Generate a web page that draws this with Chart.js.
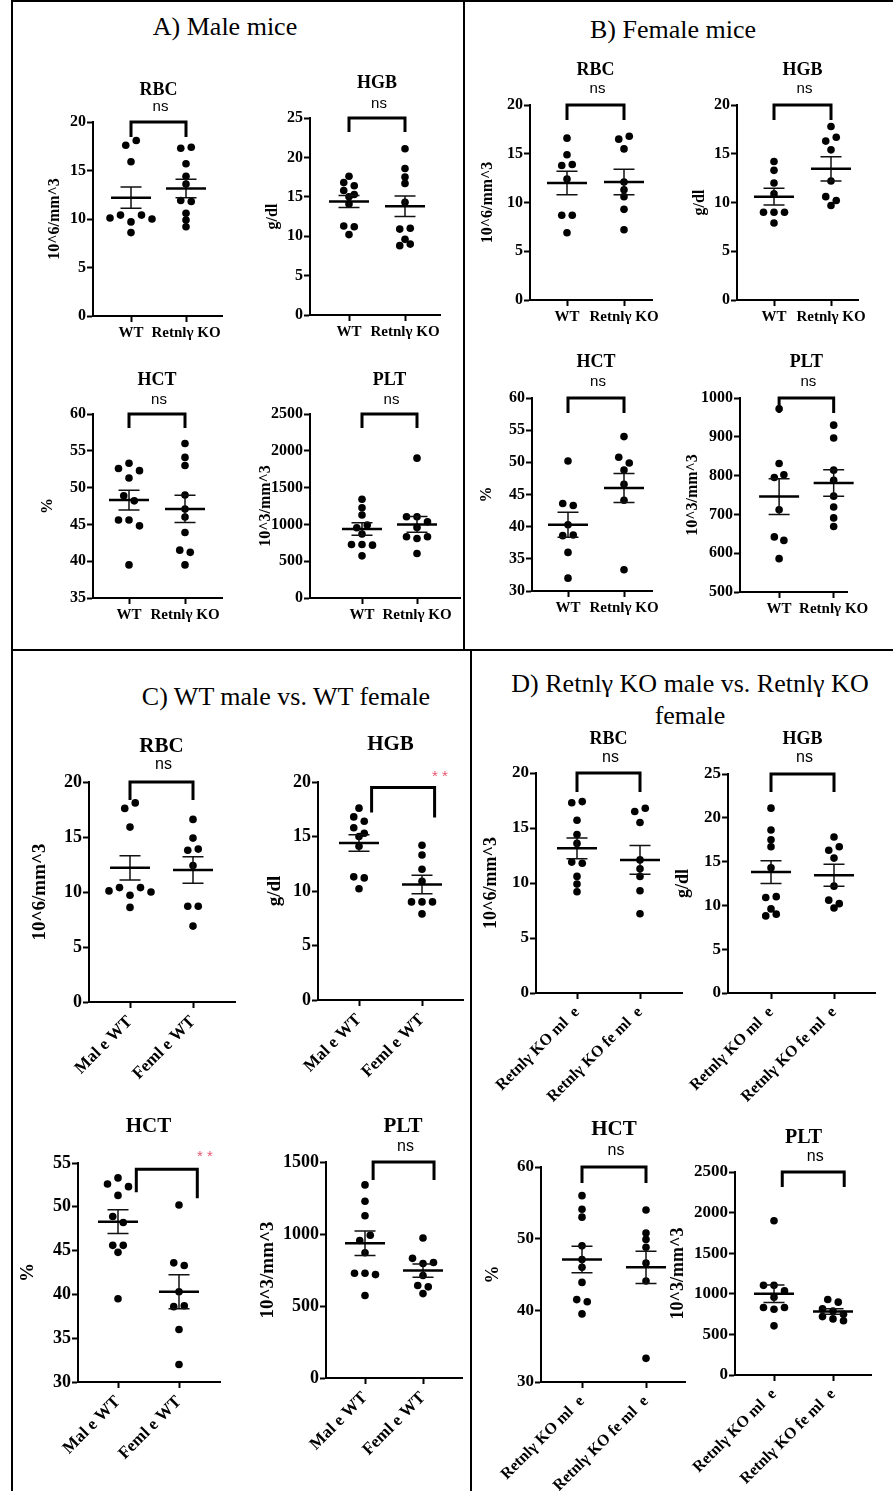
<!DOCTYPE html>
<html>
<head>
<meta charset="utf-8">
<script src="https://cdn.jsdelivr.net/npm/chart.js@4.4.1/dist/chart.umd.min.js"></script>
<style>
  html, body { margin: 0; padding: 0; background: #fff; }
  #page { position: relative; width: 893px; height: 1491px; overflow: hidden; background: #fff; }
  #page canvas { position: absolute; }
  .rule { position: absolute; background: #000; }
  .ptitle { position: absolute; font-family: "Liberation Serif", "Times New Roman", Times, serif;
            font-size: 26px; color: #000; white-space: nowrap; line-height: 1;
            transform: translate(-50%, -50%); }
</style>
</head>
<body>
<div id="page"></div>
<script>
const SERIF = '"Liberation Serif", "Times New Roman", Times, serif';
const SANS = '"Liberation Sans", Arial, Helvetica, sans-serif';

// Category (x tick) labels
const catsAB = ['WT', 'Retnlγ KO'];
const catsC = ['Mal e WT', 'Feml e WT'];
const catsD = ['Retnlγ KO ml  e', 'Retnlγ KO fe ml  e'];

// Individual animals, listed row by row (top to bottom, left to right)
const rbcMaleWT   = [17.6, 18.1, 15.9, 10.1, 10.4, 9.7, 10.4, 10.0, 8.6];
const rbcMaleKO   = [17.3, 17.4, 15.7, 14.4, 13.6, 11.9, 11.8, 10.6, 9.9, 9.2];
const rbcFemaleWT = [16.6, 14.9, 13.8, 13.9, 12.4, 8.7, 8.7, 6.9];
const rbcFemaleKO = [16.5, 16.8, 15.5, 12.1, 11.3, 10.6, 9.3, 7.2];

const hgbMaleWT   = [17.6, 16.8, 16.4, 15.8, 15.3, 15.0, 14.1, 11.3, 11.2, 10.2];
const hgbMaleKO   = [21.1, 18.6, 17.5, 16.7, 14.3, 10.9, 11.0, 9.6, 8.8, 9.0];
const hgbFemaleWT = [14.2, 13.3, 12.0, 10.9, 9.0, 9.0, 9.0, 7.9];
const hgbFemaleKO = [17.8, 16.3, 16.7, 15.4, 12.2, 10.6, 10.2, 9.7];

const hctMaleWT   = [52.6, 53.3, 52.3, 51.3, 48.9, 48.2, 45.6, 45.6, 44.8, 39.5];
const hctMaleKO   = [56.0, 54.1, 53.0, 49.0, 47.1, 46.0, 43.9, 41.5, 41.2, 39.5];
const hctFemaleWT = [50.2, 43.6, 43.3, 40.3, 38.6, 38.7, 36.0, 32.0];
const hctFemaleKO = [54.0, 50.8, 49.9, 48.8, 46.6, 44.1, 33.3];

const pltMaleWT   = [1341, 1227, 1127, 955, 991, 870, 727, 727, 718, 573];
const pltMaleKO   = [1900, 1104, 1104, 1036, 959, 832, 809, 832, 605];
const pltFemaleWT = [972, 831, 795, 802, 712, 642, 633, 586];
const pltFemaleKO = [930, 897, 814, 788, 747, 719, 691, 669];

// Mean and SEM per group: [male WT, male KO, female WT, female KO]
const rbcMean = [12.2, 13.15, 12.0, 12.1];
const rbcSem  = [1.1, 0.95, 1.2, 1.3];
const hgbMean = [14.4, 13.8, 10.6, 13.45];
const hgbSem  = [0.75, 1.3, 0.85, 1.25];
const hctMean = [48.3, 47.1, 40.3, 46.0];
const hctSem  = [1.35, 1.85, 1.95, 2.25];
const pltMean = [936, 1000, 746, 781];
const pltSem  = [85, 107, 46, 34];

const groupValues = {
  RBC: [rbcMaleWT, rbcMaleKO, rbcFemaleWT, rbcFemaleKO],
  HGB: [hgbMaleWT, hgbMaleKO, hgbFemaleWT, hgbFemaleKO],
  HCT: [hctMaleWT, hctMaleKO, hctFemaleWT, hctFemaleKO],
  PLT: [pltMaleWT, pltMaleKO, pltFemaleWT, pltFemaleKO]
};
const groupMean = { RBC: rbcMean, HGB: hgbMean, HCT: hctMean, PLT: pltMean };
const groupSem  = { RBC: rbcSem,  HGB: hgbSem,  HCT: hctSem,  PLT: pltSem };

// Text sizes for each block of plots
const styles = {
  ab: { title: 18, tick: 16, cat: 15, unit: 16, rot: 0, ns: 15 },
  c:  { title: 21, tick: 18, cat: 17, unit: 19, rot: 45, ns: 16 },
  d:  { title: 18, tick: 17, cat: 16, unit: 18, rot: 45, ns: 16 }
};

// Plot layout: area = [axis left, axis right, top, bottom] in page pixels; ticksAt = category pixel x
const plots = [
  { m: 'RBC', g: [0, 1], cats: catsAB, st: 'ab', area: [93, 222, 122, 316], ticksAt: [131, 186], y: [0, 20, 5],
    unit: '10^6/mm^3', unitX: 55, titleY: 90, sigY: 107, legs: [15, 15] },
  { m: 'HGB', g: [0, 1], cats: catsAB, st: 'ab', area: [310, 440, 118, 315], ticksAt: [349, 405], y: [0, 25, 5],
    unit: 'g/dl', unitX: 273, titleY: 83, sigY: 104, legs: [14, 14] },
  { m: 'HCT', g: [0, 1], cats: catsAB, st: 'ab', area: [93, 222, 414, 598], ticksAt: [129, 185], y: [35, 60, 5],
    unit: '%', unitX: 48, titleY: 380, sigY: 400, legs: [14, 14] },
  { m: 'PLT', g: [0, 1], cats: catsAB, st: 'ab', area: [310, 460, 414, 598], ticksAt: [362, 417], y: [0, 2500, 500],
    unit: '10^3/mm^3', unitX: 266, titleY: 380, sigY: 400, legs: [14, 14] },

  { m: 'RBC', g: [2, 3], cats: catsAB, st: 'ab', area: [530, 652, 105, 300], ticksAt: [567, 624], y: [0, 20, 5],
    unit: '10^6/mm^3', unitX: 488, titleY: 70, sigY: 89, legs: [15, 15] },
  { m: 'HGB', g: [2, 3], cats: catsAB, st: 'ab', area: [737, 858, 105, 300], ticksAt: [774, 831], y: [0, 20, 5],
    unit: 'g/dl', unitX: 700, titleY: 70, sigY: 89, legs: [15, 15] },
  { m: 'HCT', g: [2, 3], cats: catsAB, st: 'ab', area: [532, 652, 398, 591], ticksAt: [568, 624], y: [30, 60, 5],
    unit: '%', unitX: 487, titleY: 362, sigY: 382, legs: [15, 15] },
  { m: 'PLT', g: [2, 3], cats: catsAB, st: 'ab', area: [740, 858, 398, 592], ticksAt: [783, 843], y: [500, 1000, 100],
    unit: '10^3/mm^3', unitX: 693, titleY: 362, sigY: 382, legs: [15, 15] },

  { m: 'RBC', g: [0, 2], cats: catsC, st: 'c', area: [89, 235, 782, 1002], ticksAt: [130, 193], y: [0, 20, 5],
    unit: '10^6/mm^3', unitX: 40, titleY: 747, sigY: 765, legs: [18, 18] },
  { m: 'HGB', g: [0, 2], cats: catsC, st: 'c', area: [318, 463, 782, 1000], ticksAt: [359, 422], y: [0, 20, 5],
    unit: 'g/dl', unitX: 275, titleY: 745, sig: '* *', sigX: 440, sigY: 774, br: [0.2, 1.2, 19.5], legs: [25, 30] },
  { m: 'HCT', g: [0, 2], cats: catsC, st: 'c', area: [78, 220, 1163, 1382], ticksAt: [118, 179], y: [30, 55, 5],
    unit: '%', unitX: 28, titleY: 1127, sig: '* *', sigX: 205, sigY: 1154, br: [0.3, 1.3, 54.3], legs: [23, 29] },
  { m: 'PLT', g: [0, 2], cats: catsC, st: 'c', area: [326, 462, 1162, 1378], ticksAt: [365, 423], y: [0, 1500, 500],
    unit: '10^3/mm^3', unitX: 268, titleY: 1127, titleDx: 9, sigY: 1147, br: [0.14, 1.19, 1500], legs: [18, 18] },

  { m: 'RBC', g: [1, 3], cats: catsD, st: 'd', area: [536, 682, 773, 993], ticksAt: [577, 640], y: [0, 20, 5],
    unit: '10^6/mm^3', unitX: 491, titleY: 739, sigY: 758, legs: [19, 19] },
  { m: 'HGB', g: [1, 3], cats: catsD, st: 'd', area: [728, 875, 774, 993], ticksAt: [771, 834], y: [0, 25, 5],
    unit: 'g/dl', unitX: 683, titleY: 739, sigY: 758, legs: [18, 18] },
  { m: 'HCT', g: [1, 3], cats: catsD, st: 'd', area: [541, 685, 1167, 1382], ticksAt: [582, 646], y: [30, 60, 10],
    unit: '%', unitX: 493, titleY: 1130, titleSize: 21, sigY: 1151, legs: [16, 16] },
  { m: 'PLT', g: [1, 3], cats: catsD, st: 'd', area: [735, 871, 1172, 1375], ticksAt: [774, 833], y: [0, 2500, 500],
    unit: '10^3/mm^3', unitX: 678, titleY: 1138, titleSize: 20, sigY: 1157, br: [0.14, 1.19, 2500], legs: [15, 15] }
];

const DOT_R = 3.8;       // point radius
const ROW_PX = 6.2;      // values closer than this (px) share a row
const DOT_GAP = 10.5;    // horizontal spacing inside a row (px)
const MEAN_HALF = 20;    // half width of the mean bar (px)
const CAP_HALF = 10.5;   // half width of the SEM caps (px)

// Spread points that share a row side by side, centred on the category
function swarm(values, pxPerUnit, pxPerCat, slot) {
  const pts = [];
  let i = 0;
  while (i < values.length) {
    let j = i + 1;
    while (j < values.length && Math.abs(values[j] - values[i]) * pxPerUnit < ROW_PX) j++;
    const n = j - i;
    for (let k = 0; k < n; k++) {
      pts.push({ x: slot + (k - (n - 1) / 2) * DOT_GAP / pxPerCat, y: values[i + k] });
    }
    i = j;
  }
  return pts;
}

function decorPlugin(spec, left, top) {
  const st = styles[spec.st];
  return {
    id: 'decor',
    afterDatasetsDraw(chart) {
      const ctx = chart.ctx, xs = chart.scales.x, ys = chart.scales.y;
      const mean = groupMean[spec.m], sem = groupSem[spec.m];
      spec.g.forEach((gi, slot) => {
        const cx = xs.getPixelForValue(slot);
        const my = ys.getPixelForValue(mean[gi]);
        const hi = ys.getPixelForValue(mean[gi] + sem[gi]);
        const lo = ys.getPixelForValue(mean[gi] - sem[gi]);
        ctx.save();
        ctx.strokeStyle = '#111';
        ctx.lineWidth = 1.5;
        ctx.beginPath();
        ctx.moveTo(cx, hi); ctx.lineTo(cx, lo);
        ctx.moveTo(cx - CAP_HALF, hi); ctx.lineTo(cx + CAP_HALF, hi);
        ctx.moveTo(cx - CAP_HALF, lo); ctx.lineTo(cx + CAP_HALF, lo);
        ctx.stroke();
        ctx.strokeStyle = '#000';
        ctx.lineWidth = 2.5;
        ctx.beginPath();
        ctx.moveTo(cx - MEAN_HALF, my); ctx.lineTo(cx + MEAN_HALF, my);
        ctx.stroke();
        ctx.restore();
      });
    },
    afterDraw(chart) {
      const ctx = chart.ctx, xs = chart.scales.x, ys = chart.scales.y;
      const br = spec.br || [0, 1, spec.y[1]];
      const bx1 = xs.getPixelForValue(br[0]);
      const bx2 = xs.getPixelForValue(br[1]);
      const by = ys.getPixelForValue(br[2]);
      ctx.save();
      // significance bracket
      ctx.strokeStyle = '#000';
      ctx.lineWidth = 3;
      ctx.lineJoin = 'miter';
      ctx.beginPath();
      ctx.moveTo(bx1, by + spec.legs[0]);
      ctx.lineTo(bx1, by);
      ctx.lineTo(bx2, by);
      ctx.lineTo(bx2, by + spec.legs[1]);
      ctx.stroke();

      // plot title
      const catMid = (xs.getPixelForValue(0) + xs.getPixelForValue(1)) / 2;
      ctx.fillStyle = '#000';
      ctx.textAlign = 'center';
      ctx.textBaseline = 'middle';
      ctx.font = 'bold ' + (spec.titleSize || st.title) + 'px ' + SERIF;
      ctx.fillText(spec.m, catMid + (spec.titleDx || 0), spec.titleY - top);

      // significance text
      if (spec.sig) {
        ctx.fillStyle = '#e9566e';
        ctx.font = '15px ' + SANS;
        ctx.fillText(spec.sig, spec.sigX - left, spec.sigY - top + 3);
      } else {
        ctx.fillStyle = '#000';
        ctx.font = st.ns + 'px ' + SANS;
        ctx.fillText('ns', (bx1 + bx2) / 2 + 2, spec.sigY - top);
      }

      // y axis title
      ctx.fillStyle = '#000';
      ctx.font = 'bold ' + st.unit + 'px ' + SERIF;
      ctx.translate(spec.unitX - left, (spec.area[2] + spec.area[3]) / 2 - top);
      ctx.rotate(-Math.PI / 2);
      ctx.fillText(spec.unit, 0, 0);
      ctx.restore();
    }
  };
}

const page = document.getElementById('page');

// panel frame
function rule(x, y, w, h) {
  const d = document.createElement('div');
  d.className = 'rule';
  d.style.left = x + 'px'; d.style.top = y + 'px';
  d.style.width = w + 'px'; d.style.height = h + 'px';
  page.appendChild(d);
}
rule(11, 0, 882, 2);
rule(11, 0, 2, 1491);
rule(463, 0, 2, 651);
rule(11, 649, 882, 2);
rule(470, 651, 2, 840);

function panelTitle(text, x, y) {
  const d = document.createElement('div');
  d.className = 'ptitle';
  d.textContent = text;
  d.style.left = x + 'px'; d.style.top = y + 'px';
  page.appendChild(d);
}
panelTitle('A) Male mice', 225, 27);
panelTitle('B) Female mice', 673, 30);
panelTitle('C) WT male vs. WT female', 286, 697);
panelTitle('D) Retnlγ KO male vs. Retnlγ KO', 690, 684);
panelTitle('female', 690, 716);

plots.forEach(spec => {
  const st = styles[spec.st];
  const [x0, x1, yT, yB] = spec.area;
  const left = x0 - 72, top = yT - 78;
  const w = x1 + 14 - left, h = yB + 140 - top;
  const cv = document.createElement('canvas');
  cv.width = w; cv.height = h;
  cv.style.left = left + 'px'; cv.style.top = top + 'px';
  cv.style.width = w + 'px'; cv.style.height = h + 'px';
  page.appendChild(cv);

  const pxPerCat = spec.ticksAt[1] - spec.ticksAt[0];
  const xMin = -(spec.ticksAt[0] - x0) / pxPerCat;
  const xMax = 1 + (x1 - spec.ticksAt[1]) / pxPerCat;
  const pxPerUnit = (yB - yT) / (spec.y[1] - spec.y[0]);

  const datasets = spec.g.map((gi, slot) => ({
    data: swarm(groupValues[spec.m][gi], pxPerUnit, pxPerCat, slot),
    pointRadius: DOT_R,
    pointHoverRadius: DOT_R,
    pointBackgroundColor: '#000',
    pointBorderWidth: 0,
    clip: false
  }));

  const axisCommon = {
    border: { display: true, color: '#000', width: 2 },
    grid: { display: true, drawOnChartArea: false, drawTicks: true, tickLength: 6, tickWidth: 2, tickColor: '#000' }
  };

  new Chart(cv, {
    type: 'scatter',
    data: { datasets },
    options: {
      responsive: false,
      animation: false,
      devicePixelRatio: 1,
      events: [],
      layout: { padding: { left: 0, top: yT - top, right: left + w - x1, bottom: 0 } },
      plugins: { legend: { display: false }, tooltip: { enabled: false } },
      scales: {
        x: Object.assign({}, axisCommon, {
          type: 'linear',
          min: xMin,
          max: xMax,
          afterBuildTicks: axis => { axis.ticks = [{ value: 0 }, { value: 1 }]; },
          afterFit: axis => { axis.height = top + h - yB; },
          ticks: {
            autoSkip: false,
            minRotation: st.rot,
            maxRotation: st.rot,
            padding: st.rot ? 4 : 2,
            color: '#000',
            font: { family: SERIF, size: st.cat, weight: 'bold' },
            callback: v => spec.cats[Math.round(v)]
          }
        }),
        y: Object.assign({}, axisCommon, {
          type: 'linear',
          min: spec.y[0],
          max: spec.y[1],
          afterFit: axis => { axis.width = x0 - left; },
          ticks: {
            stepSize: spec.y[2],
            padding: 1,
            color: '#000',
            font: { family: SERIF, size: st.tick, weight: 'bold' },
            callback: v => String(v)
          }
        })
      }
    },
    plugins: [decorPlugin(spec, left, top)]
  });
});
</script>
</body>
</html>
